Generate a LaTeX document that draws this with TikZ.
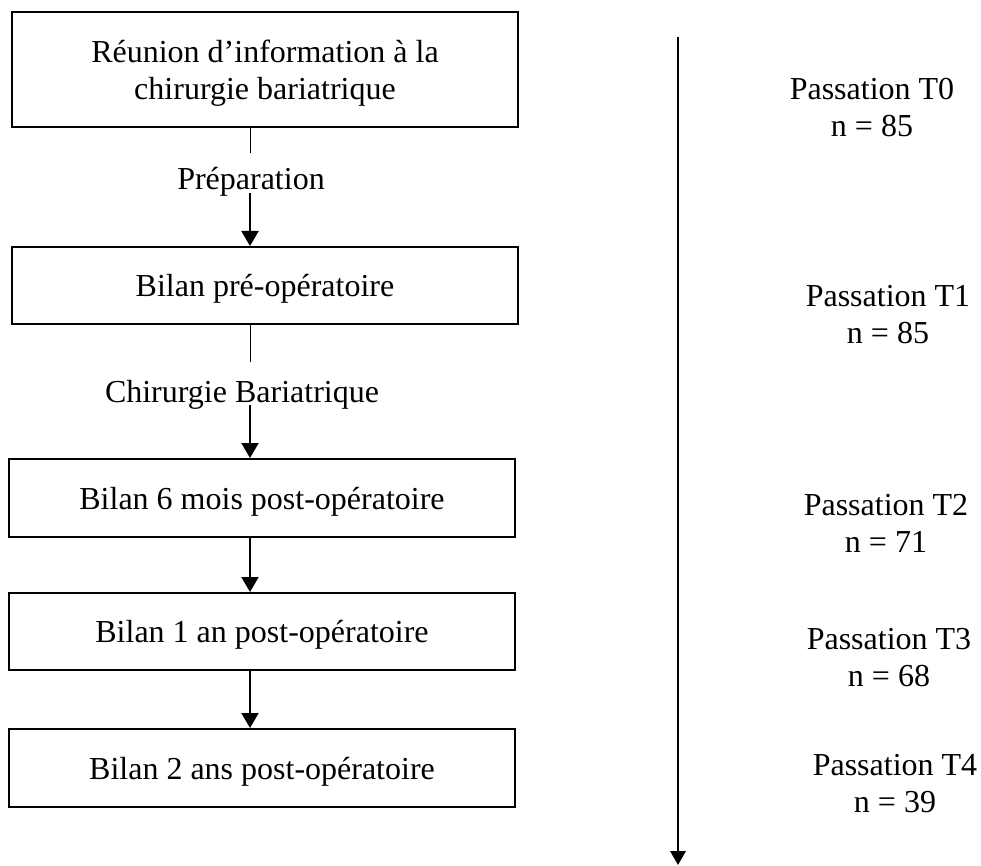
\documentclass[tikz,border=0pt]{standalone}
\usepackage{fontspec}
\setmainfont{Liberation Serif}
\usetikzlibrary{arrows.meta}

\begin{document}
\begin{tikzpicture}[x=0.75pt,y=0.75pt,yscale=-1,xscale=1,
    box/.style={draw, line width=1.5pt, minimum width=379.5pt, inner sep=0pt, align=center, text depth=0pt, font=\fontsize{24}{27.75}\selectfont},
    phase/.style={inner sep=0pt, anchor=base, text depth=2.25pt, font=\fontsize{24}{27.75}\selectfont},
    passation/.style={inner sep=0pt, align=center, font=\fontsize{24}{27.75}\selectfont},
    lead/.style={line width=0.75pt},
    flow/.style={line width=1.5pt, -{Triangle[width=12.75pt,length=11.25pt]}},
    timeline/.style={line width=1.8pt, -{Triangle[width=11.5pt,length=10.5pt]}}]
    %set diagram left start at 0, and has height of 866
    \useasboundingbox (0,0) rectangle (981,866);
    \coordinate (spine) at (250,0);

    %Shape: Rectangle
    \draw (265,69.5) node (b1) [box, minimum height=86.25pt] {Réunion d’information à la\\chirurgie bariatrique};
    %Shape: Rectangle
    \draw (265,285.5) node (b2) [box, minimum height=57.75pt] {Bilan pré-opératoire};
    %Shape: Rectangle
    \draw (262,498) node (b3) [box, minimum height=58.5pt] {Bilan 6 mois post-opératoire};
    %Shape: Rectangle
    \draw (262,631.5) node (b4) [box, minimum height=57.75pt] {Bilan 1 an post-opératoire};
    %Shape: Rectangle
    \draw (262,768) node (b5) [box, minimum height=58.5pt] {Bilan 2 ans post-opératoire};

    % Text Node
    \draw (251,190) node (prep) [phase, text height=27.75pt] {Préparation};
    % Text Node
    \draw (242,402) node (chir) [phase, text height=30pt] {Chirurgie Bariatrique};

    %Straight Lines
    \draw [lead] (b1.south -| spine) -- (prep.north -| spine);
    \draw [flow] (prep.south -| spine) -- (b2.north -| spine);
    %Straight Lines
    \draw [lead] (b2.south -| spine) -- (chir.north -| spine);
    \draw [flow] (chir.south -| spine) -- (b3.north -| spine);
    %Straight Lines
    \draw [flow] (b3.south -| spine) -- (b4.north -| spine);
    \draw [flow] (b4.south -| spine) -- (b5.north -| spine);

    %Straight Lines (time axis)
    \coordinate (tl top) at (678,37);
    \coordinate (tl end) at (678,865);
    \draw [timeline] (tl top) -- (tl end);

    % Text Node
    \draw (872,108) node (t0) [passation] {Passation T0\\n = 85};
    % Text Node
    \draw (888,315) node (t1) [passation] {Passation T1\\n = 85};
    % Text Node
    \draw (886,523) node (t2) [passation] {Passation T2\\n = 71};
    % Text Node
    \draw (889,658) node (t3) [passation] {Passation T3\\n = 68};
    % Text Node
    \draw (895,783.5) node (t4) [passation] {Passation T4\\n = 39};

\end{tikzpicture}
\end{document}
